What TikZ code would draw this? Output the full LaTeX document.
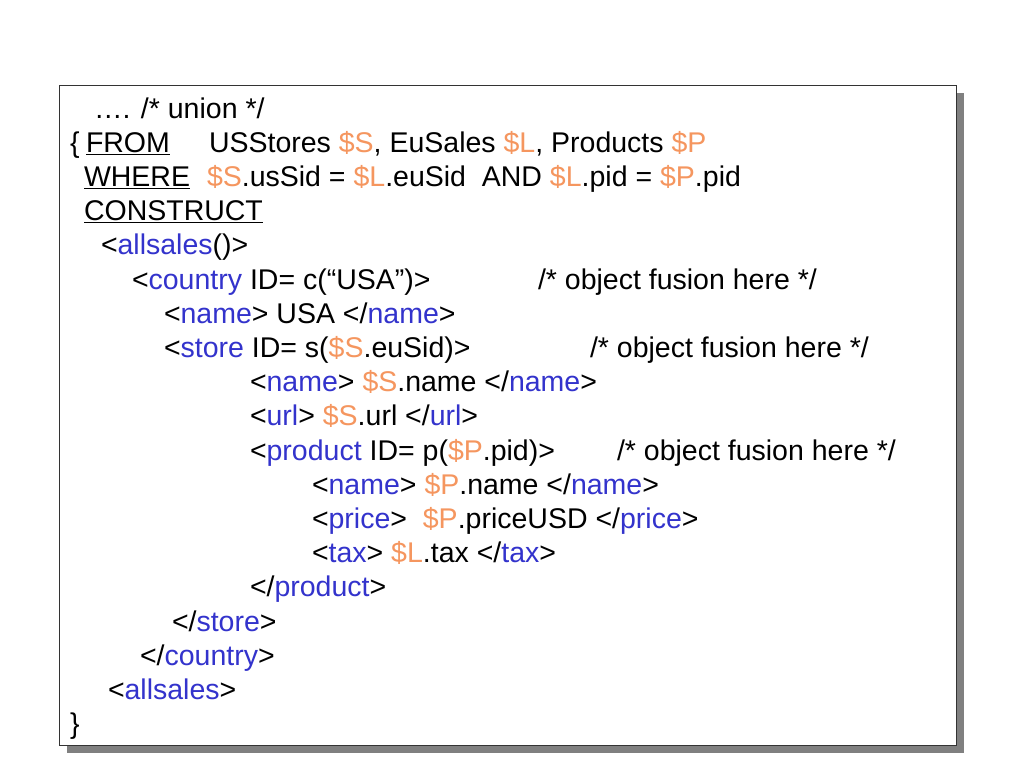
\documentclass[tikz,border=0pt]{standalone}
\usepackage{fontspec}
\setmainfont{Liberation Sans}
\usetikzlibrary{shadows}
\definecolor{tagblue}{RGB}{51,51,204}
\definecolor{varorange}{RGB}{245,150,95}
\definecolor{shadowgray}{RGB}{128,128,128}
\newcommand{\tagname}[1]{\textcolor{tagblue}{#1}}
\newcommand{\varname}[1]{\textcolor{varorange}{\$#1}}
\tikzset{
  code/.style     = {anchor=base west, inner sep=0pt, outer sep=0pt,
                     font=\fontsize{28.5}{34}\selectfont},
  slidebox/.style = {draw=black!80, fill=white, line width=1pt, inner sep=0pt,
                     minimum width=897pt, minimum height=660pt,
                     drop shadow={shadow xshift=8pt, shadow yshift=-8pt,
                     fill=shadowgray, opacity=1}}
}
\begin{document}
\begin{tikzpicture}[x=1pt,y=-1pt]
\useasboundingbox (0,0) rectangle (1024,768);

% the framed slide with its shadow
\node[slidebox] (box) at (507.5,415) {};

% query head
\node[code] (l1)  at (94,118)    {…. /* union */};
\node[code] (l2a) at (70,152.2)  {\{};
\node[code] (l2b) at (86,152.2)  {\underline{FROM}};
\node[code] (l2c) at (209,152.2) {USStores \varname{S}, EuSales \varname{L}, Products \varname{P}};
\node[code] (l3a) at (84,186.4)  {\underline{WHERE}};
\node[code] (l3b) at (207,186.4) {\varname{S}.usSid = \varname{L}.euSid\ \ AND \varname{L}.pid = \varname{P}.pid};
\node[code] (l4)  at (84,220.6)  {\underline{CONSTRUCT}};

% constructed elements
\node[code] (l5)  at (101,254.8) {<\tagname{allsales}()>};
\node[code] (l6)  at (132,289)   {<\tagname{country} ID= c(“USA”)>};
\node[code] (c6)  at (538,289)   {/* object fusion here */};
\node[code] (l7)  at (164,323.2) {<\tagname{name}> USA </\tagname{name}>};
\node[code] (l8)  at (164,357.4) {<\tagname{store} ID= s(\varname{S}.euSid)>};
\node[code] (c8)  at (590,357.4) {/* object fusion here */};
\node[code] (l9)  at (250,391.6) {<\tagname{name}> \varname{S}.name </\tagname{name}>};
\node[code] (l10) at (250,425.8) {<\tagname{url}> \varname{S}.url </\tagname{url}>};
\node[code] (l11) at (250,460)   {<\tagname{product} ID= p(\varname{P}.pid)>};
\node[code] (c11) at (617,460)   {/* object fusion here */};
\node[code] (l12) at (312,494.2) {<\tagname{name}> \varname{P}.name </\tagname{name}>};
\node[code] (l13) at (312,528.4) {<\tagname{price}>\ \ \varname{P}.priceUSD </\tagname{price}>};
\node[code] (l14) at (312,562.6) {<\tagname{tax}> \varname{L}.tax </\tagname{tax}>};
\node[code] (l15) at (250,596.8) {</\tagname{product}>};
\node[code] (l16) at (172,631)   {</\tagname{store}>};
\node[code] (l17) at (140,665.2) {</\tagname{country}>};
\node[code] (l18) at (108,699.4) {<\tagname{allsales}>};
\node[code] (l19) at (70,733.6)  {\}};

\end{tikzpicture}
\end{document}
